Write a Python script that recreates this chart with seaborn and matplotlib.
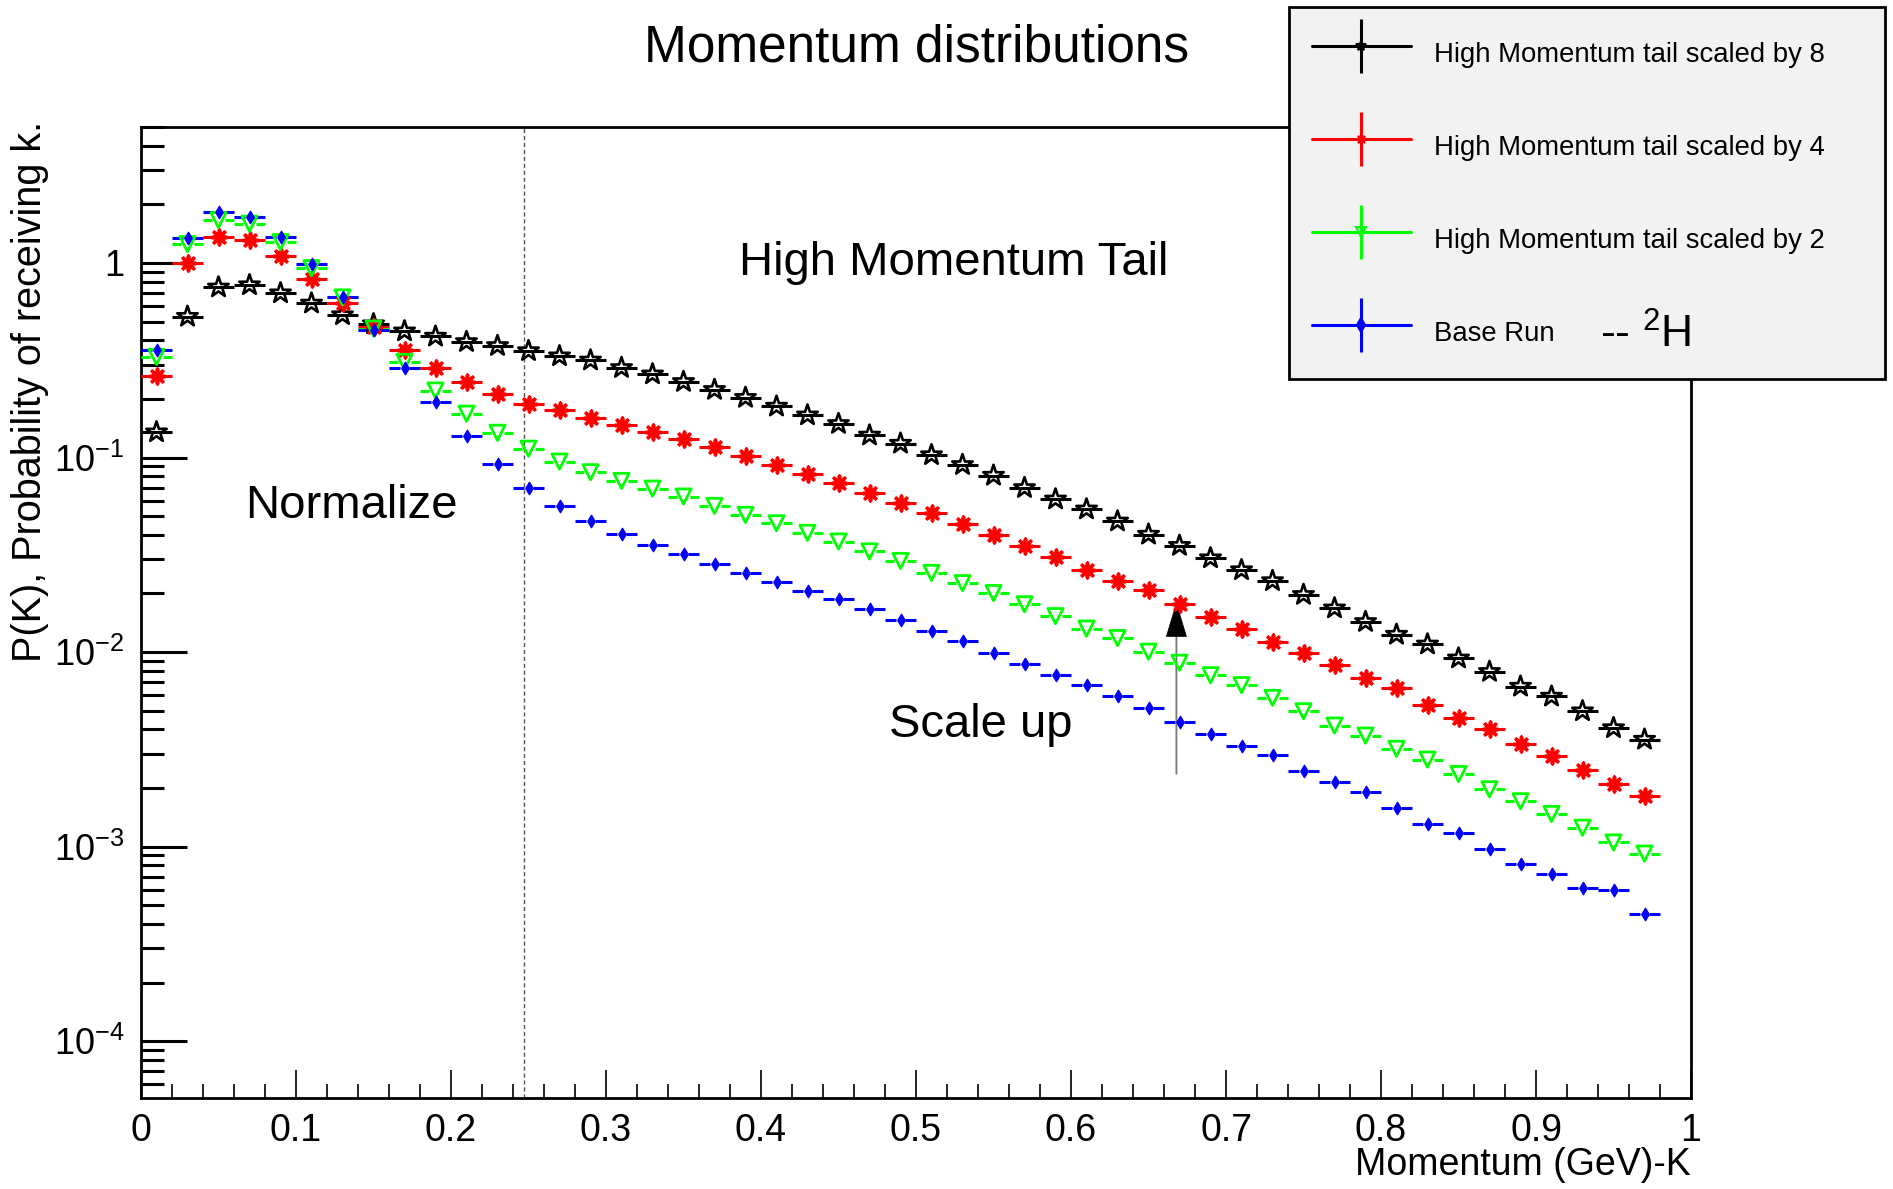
"""Momentum distributions: base run and the high-momentum tail scaled by 2, 4, 8.
Log-scale bin contents read off the ROOT canvas, redrawn with seaborn.
"""

import math

import matplotlib

matplotlib.use('Agg')
import matplotlib.pyplot as plt
import seaborn as sns
from matplotlib.legend_handler import HandlerTuple
from matplotlib.lines import Line2D
from matplotlib.ticker import FixedLocator, FuncFormatter, LogLocator, MultipleLocator

# bin centres (GeV), bin width 0.02
MOMENTUM = [
    0.01, 0.03, 0.05, 0.07, 0.09, 0.11, 0.13, 0.15, 0.17, 0.19,
    0.21, 0.23, 0.25, 0.27, 0.29, 0.31, 0.33, 0.35, 0.37, 0.39,
    0.41, 0.43, 0.45, 0.47, 0.49, 0.51, 0.53, 0.55, 0.57, 0.59,
    0.61, 0.63, 0.65, 0.67, 0.69, 0.71, 0.73, 0.75, 0.77, 0.79,
    0.81, 0.83, 0.85, 0.87, 0.89, 0.91, 0.93, 0.95, 0.97,
]
SCALED_8 = [
    0.135, 0.53, 0.75, 0.77, 0.70, 0.62, 0.54, 0.485, 0.446, 0.419,
    0.393, 0.375, 0.353, 0.332, 0.316, 0.289, 0.268, 0.245, 0.223, 0.203,
    0.183, 0.165, 0.149, 0.130, 0.118, 0.103, 0.0917, 0.0808, 0.0698, 0.061,
    0.0542, 0.0470, 0.0402, 0.0352, 0.0304, 0.0264, 0.0232, 0.0197, 0.0168, 0.0143,
    0.0123, 0.01096, 0.00929, 0.00792, 0.00665, 0.00591, 0.00497, 0.00407, 0.00355,
]
SCALED_4 = [
    0.263, 1.0, 1.36, 1.31, 1.08, 0.83, 0.62, 0.47, 0.356, 0.289,
    0.245, 0.213, 0.189, 0.175, 0.160, 0.147, 0.135, 0.124, 0.113, 0.1016,
    0.092, 0.082, 0.0741, 0.0658, 0.0586, 0.052, 0.0457, 0.040, 0.0351, 0.0308,
    0.0265, 0.0232, 0.0208, 0.0176, 0.0151, 0.0132, 0.0113, 0.00985, 0.00857, 0.00738,
    0.00655, 0.00537, 0.00459, 0.0040, 0.00337, 0.00291, 0.00247, 0.0021, 0.00183,
]
SCALED_2 = [
    0.329, 1.25, 1.66, 1.59, 1.28, 0.94, 0.665, 0.46, 0.31, 0.221,
    0.168, 0.134, 0.111, 0.0953, 0.0840, 0.0758, 0.0692, 0.063, 0.0564, 0.0507,
    0.0459, 0.041, 0.0370, 0.0329, 0.0294, 0.0255, 0.0226, 0.0201, 0.0176, 0.0153,
    0.0132, 0.0118, 0.01004, 0.00881, 0.0076, 0.00676, 0.00581, 0.00496, 0.00419, 0.00372,
    0.00318, 0.0028, 0.00236, 0.00197, 0.00171, 0.00147, 0.00125, 0.00105, 0.00092,
]
BASE_RUN = [
    0.356, 1.35, 1.82, 1.73, 1.36, 0.99, 0.67, 0.45, 0.289, 0.192,
    0.129, 0.093, 0.070, 0.0561, 0.0470, 0.0404, 0.0356, 0.0318, 0.0285, 0.0255,
    0.0229, 0.0206, 0.0187, 0.0167, 0.0146, 0.0128, 0.0114, 0.00985, 0.00864, 0.0076,
    0.00676, 0.00591, 0.00516, 0.00439, 0.00377, 0.00328, 0.00294, 0.00246, 0.00216, 0.00191,
    0.00157, 0.0013, 0.00117, 0.00097, 0.00081, 0.00072, 0.00061, 0.000598, 0.00045,
]
HALF_BIN = 0.01

LABELS = [
    'High Momentum tail scaled by 8',
    'High Momentum tail scaled by 4',
    'High Momentum tail scaled by 2',
    'Base Run',
]

W, H = 1893, 1189


def fx(px):
    return px / W


def fy(px):
    return 1 - px / H


def style():
    sns.set_theme(style='ticks')
    plt.rcParams.update(
        {
            'font.family': ['Liberation Sans', 'DejaVu Sans'],
            'mathtext.fontset': 'custom',
            'mathtext.rm': 'Liberation Sans',
            'mathtext.it': 'Liberation Sans:italic',
            'text.color': 'black',
            'axes.edgecolor': 'black',
            'xtick.color': 'black',
            'ytick.color': 'black',
            'figure.facecolor': 'white',
            'savefig.facecolor': 'white',
        }
    )


def draw_series(ax, y, color, marker, size, gap, filled, lw):
    # horizontal bin-width bars, with a small gap where ROOT leaves room for the marker
    lefts = [x - HALF_BIN for x in MOMENTUM]
    rights = [x + HALF_BIN for x in MOMENTUM]
    if gap > 0:
        ax.hlines(y, lefts, [x - gap for x in MOMENTUM], color=color, lw=2.2, zorder=3)
        ax.hlines(y, [x + gap for x in MOMENTUM], rights, color=color, lw=2.2, zorder=3)
    else:
        ax.hlines(y, lefts, rights, color=color, lw=2.2, zorder=3)
    kw = dict(x=MOMENTUM, y=y, ax=ax, marker=marker, s=size, linewidth=lw, zorder=4)
    if filled == 'open':
        sns.scatterplot(facecolor='none', edgecolor=color, **kw)
    elif filled == 'line':
        sns.scatterplot(color=color, **kw)
    else:
        sns.scatterplot(color=color, edgecolor=color, **kw)


def log_label(v, _):
    if abs(v - 1) < 1e-9:
        return '1'
    return r'$\mathdefault{10^{%d}}$' % round(math.log10(v))


def main():
    style()
    fig = plt.figure(figsize=(W / 100, H / 100), dpi=100)
    ax = fig.add_axes([fx(141), fy(1098), fx(1691) - fx(141), fy(127) - fy(1098)])

    draw_series(ax, SCALED_8, 'black', '*', 240, 0, 'open', 1.9)
    draw_series(ax, SCALED_4, 'red', (8, 2, 0), 110, 0, 'line', 2.6)
    draw_series(ax, SCALED_2, '#00ff00', 'v', 120, 0.0045, 'open', 2.0)
    draw_series(ax, BASE_RUN, 'blue', 'd', 40, 0.003, 'fill', 1.0)

    ax.set_yscale('log')
    ax.set_xlim(0, 1)
    ax.set_ylim(5.1e-5, 5.0)

    ax.axvline(0.247, color='#555555', lw=1.0, ls=(0, (3, 2)), zorder=2)

    # scale-up arrow: grey shaft, black head
    ax.annotate(
        '', xy=(0.668, 0.0165), xytext=(0.668, 0.00237),
        arrowprops=dict(arrowstyle='-', color='#777777', lw=1.3, shrinkA=0, shrinkB=0),
    )
    ax.annotate(
        '', xy=(0.668, 0.0181), xytext=(0.668, 0.0121),
        arrowprops=dict(
            arrowstyle='-|>,head_length=1.0,head_width=0.3',
            mutation_scale=24, color='black', lw=0.5, shrinkA=0, shrinkB=0,
        ),
    )

    ax.text(0.524, 1.0, 'High Momentum Tail', fontsize=34, ha='center', va='center')
    ax.text(0.1355, 0.0566, 'Normalize', fontsize=34, ha='center', va='center')
    ax.text(0.542, 0.0042, 'Scale up', fontsize=34, ha='center', va='center')

    for side in ('left', 'right', 'top', 'bottom'):
        ax.spines[side].set_linewidth(2.0)
        ax.spines[side].set_color('black')

    ax.xaxis.set_major_locator(MultipleLocator(0.1))
    ax.xaxis.set_minor_locator(MultipleLocator(0.02))
    ax.xaxis.set_major_formatter(FuncFormatter(lambda v, _: f'{v:g}'))
    ax.yaxis.set_major_locator(FixedLocator([1e-4, 1e-3, 1e-2, 1e-1, 1]))
    ax.yaxis.set_minor_locator(LogLocator(base=10, subs=range(2, 10), numticks=20))
    ax.yaxis.set_minor_formatter(FuncFormatter(lambda v, _: ''))
    ax.yaxis.set_major_formatter(FuncFormatter(log_label))
    ax.tick_params(axis='x', which='major', direction='in', length=20, width=1.2,
                   labelsize=27, pad=11, top=False)
    ax.tick_params(axis='x', which='minor', direction='in', length=10, width=1.2, top=False)
    ax.tick_params(axis='y', which='major', direction='in', length=33, width=2.2,
                   labelsize=26, pad=12, right=False)
    ax.tick_params(axis='y', which='minor', direction='in', length=16.5, width=2.2, right=False)
    ax.grid(False)

    fig.text(fx(917), fy(48), 'Momentum distributions', fontsize=37, ha='center', va='center')
    fig.text(fx(1691), fy(1165), 'Momentum (GeV)-K', fontsize=27, ha='right', va='center')
    fig.text(fx(30), fy(121), 'P(K), Probability of receiving k.', fontsize=28.5,
             rotation=90, ha='center', va='top')

    specs = [
        ('black', '*', 'none'),
        ('red', (8, 2, 0), 'red'),
        ('#00ff00', 'v', 'none'),
        ('blue', 'd', 'blue'),
    ]
    handles = []
    for color, marker, face in specs:
        hline = Line2D([], [], color=color, lw=2.2, marker=marker, ms=7, mec=color,
                       mfc=face, mew=1.5)
        vline = Line2D([], [], color=color, lw=0, marker='|', ms=39, mew=2.2)
        handles.append((hline, vline))
    leg = ax.legend(
        handles, LABELS,
        handler_map={tuple: HandlerTuple(ndivide=1, pad=0)},
        loc='upper left',
        bbox_to_anchor=(fx(1289), fy(7) - 0.3, fx(1885) - fx(1289), 0.3),
        bbox_transform=fig.transFigure,
        mode='expand',
        borderaxespad=0,
        fontsize=19.8,
        frameon=True,
        fancybox=False,
        edgecolor='black',
        facecolor='#f2f2f2',
        framealpha=1,
        borderpad=0.83,
        labelspacing=1.675,
        handleheight=2.25,
        handlelength=3.6,
        handletextpad=0.83,
        numpoints=1,
    )
    leg.get_frame().set_linewidth(2.0)
    leg.set_zorder(10)

    fig.text(fx(1600), fy(348), r'-- $\mathdefault{{}^{2}}$H', fontsize=32,
             ha='left', va='baseline', zorder=11)

    fig.savefig('out.png', dpi=100)
    plt.close(fig)


if __name__ == '__main__':
    main()
